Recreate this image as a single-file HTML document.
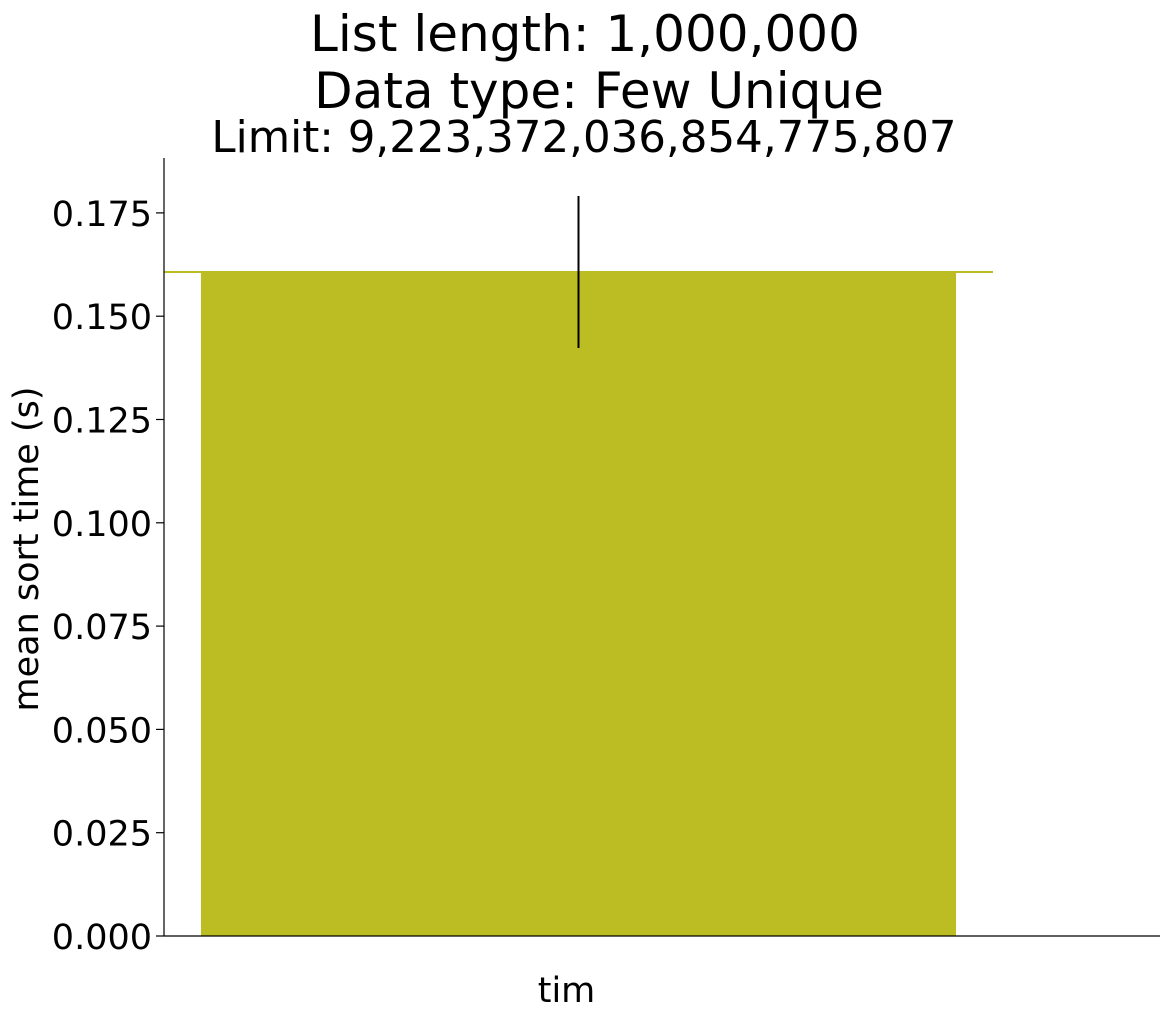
<!DOCTYPE html>
<html><head><meta charset="utf-8"><style>
html,body{margin:0;padding:0;background:#fff;}
svg{display:block;font-family:"DejaVu Sans","Liberation Sans",sans-serif;}
</style></head><body>
<svg id="chart" width="1170" height="1019" viewBox="0 0 1170 1019">
<text x="585" y="51" font-size="50" text-anchor="middle">List length: 1,000,000</text>
<text x="599" y="108" font-size="50" text-anchor="middle">Data type: Few Unique</text>
<text x="584" y="152" font-size="43.5" text-anchor="middle">Limit: 9,223,372,036,854,775,807</text>
<g id="plot"></g>
<text transform="translate(38,549) rotate(-90)" font-size="35" text-anchor="middle">mean sort time (s)</text>
</svg>
<script>
const categories = ["tim"];
const values = [0.1607];
const errors = [0.0184];
const yTicks = [0, 0.025, 0.05, 0.075, 0.1, 0.125, 0.15, 0.175];
const yTickLabels = ["0.000","0.025","0.050","0.075","0.100","0.125","0.150","0.175"];

const NS = "http://www.w3.org/2000/svg";
const g = document.getElementById("plot");
const x0 = 164, x1 = 1160, yBase = 936, pxPerUnit = 4132, yTop = 158;
const y = v => yBase - v * pxPerUnit;
const slotW = 830 / categories.length;
const xC = i => 164 + 37 + 377.5 + i * slotW;
function mk(tag, attrs){const e=document.createElementNS(NS,tag);for(const k in attrs)e.setAttribute(k,attrs[k]);g.appendChild(e);return e;}

categories.forEach((c,i)=>{
  const b = mk("rect",{x:xC(i)-377.5,y:y(values[i]),width:755,height:yBase-y(values[i]),fill:"#bcbd22"});
  
  
  const m = mk("line",{x1:x0,x2:993,y1:y(values[i]),y2:y(values[i]),stroke:"#bcbd22","stroke-width":2});
  
  
  const e = mk("line",{x1:xC(i),x2:xC(i),y1:y(values[i]+errors[i]),y2:y(values[i]-errors[i]),stroke:"#000","stroke-width":2});
  
  
  const t = mk("text",{x:xC(i)-12,y:1002,"font-size":35,"text-anchor":"middle"});
  t.textContent = c;
  
  
});
yTicks.forEach((v,i)=>{
  const tk = mk("line",{x1:x0-8,x2:x0,y1:y(v),y2:y(v),stroke:"#000","stroke-width":1.2});
  
  
  const t = mk("text",{x:x0-12,y:y(v)+13,"font-size":35,"text-anchor":"end"});
  t.textContent = yTickLabels[i];
  
  
});
const ya = mk("line",{x1:x0,x2:x0,y1:yTop,y2:yBase,stroke:"#000","stroke-width":1.2});


const xa = mk("line",{x1:x0,x2:x1,y1:yBase,y2:yBase,stroke:"#000","stroke-width":1.2});


</script>
</body></html>
